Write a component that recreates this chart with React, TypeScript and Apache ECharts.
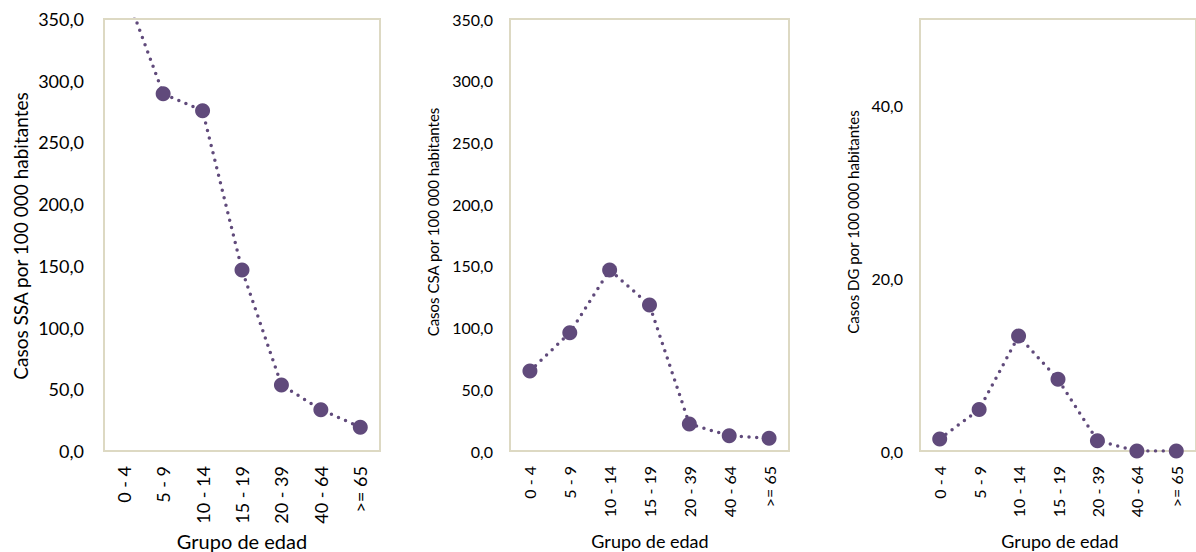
import React, { useEffect, useRef } from "react";
import * as echarts from "echarts";

const categories = ["0 - 4", "5 - 9", "10 - 14", "15 - 19", "20 - 39", "40 - 64", ">= 65"];
const ssaValues = [376, 289.5, 275.7, 146.7, 53.5, 33.5, 19.3];
const csaValues = [64.8, 95.8, 146.7, 118.3, 21.9, 12.4, 10.3];
const dgValues = [1.4, 4.8, 13.3, 8.3, 1.2, 0, 0];

const yTitles = [
  "Casos SSA por 100 000 habitantes",
  "Casos CSA por 100 000 habitantes",
  "Casos DG por 100 000 habitantes",
];
const xTitle = "Grupo de edad";

const PURPLE = "#604a7b";
const BORDER = "#ddd9c3";
const FONT = "Lato, 'Open Sans', sans-serif";

const fmt = (v: number) => v.toFixed(1).replace(".", ",");

export default function App() {
  const ref = useRef<HTMLDivElement>(null);
  useEffect(() => {
    if (!ref.current) return;
    const chart = echarts.init(ref.current, undefined, { renderer: "svg" });
    const grids = [
      { left: 104, top: 19, width: 276, height: 432 },
      { left: 510, top: 19, width: 279, height: 432 },
      { left: 920, top: 19, width: 282, height: 432 },
    ];
    const tickFont = [18, 16, 16];
    const yMax = [350, 350, 50];
    const yInt = [50, 50, 20];
    const data = [ssaValues, csaValues, dgValues];
    const option: any = {
      animation: false,
      backgroundColor: "#fff",
      grid: grids.map((g) => ({
        ...g,
        show: true,
        borderColor: BORDER,
        borderWidth: 2,
        backgroundColor: "transparent",
        containLabel: false,
      })),
      xAxis: grids.map((_, i) => ({
        type: "category",
        gridIndex: i,
        data: categories,
        boundaryGap: true,
        axisLine: { show: false },
        axisTick: { show: false },
        splitLine: { show: false },
        axisLabel: {
          rotate: 90,
          interval: 0,
          margin: 15,
          color: "#000",
          fontFamily: FONT,
          fontSize: tickFont[i],
        },
      })),
      yAxis: grids.map((_, i) => ({
        type: "value",
        gridIndex: i,
        min: 0,
        max: yMax[i],
        interval: yInt[i],
        axisLine: { show: false },
        axisTick: { show: false },
        splitLine: { show: false },
        axisLabel: {
          margin: i === 0 ? 20 : 17,
          color: "#000",
          fontFamily: FONT,
          fontSize: tickFont[i],
          formatter: (v: number) => (i === 2 && v === 50 ? "" : fmt(v)),
        },
      })),
      series: data.map((d, i) => ({
        type: "line",
        xAxisIndex: i,
        yAxisIndex: i,
        data: d,
        clip: true,
        symbol: "circle",
        symbolSize: 15,
        itemStyle: { color: PURPLE },
        lineStyle: { color: PURPLE, width: 3.5, type: [0, 7.7], cap: "round" },
      })),
      graphic: [
        {
          type: "text",
          x: 20,
          y: 236,
          rotation: Math.PI / 2,
          style: { text: yTitles[0], fill: "#000", font: `19px ${FONT}`, align: "center", verticalAlign: "middle" },
        },
        {
          type: "text",
          x: 433,
          y: 222,
          rotation: Math.PI / 2,
          style: { text: yTitles[1], fill: "#000", font: `15px ${FONT}`, align: "center", verticalAlign: "middle" },
        },
        {
          type: "text",
          x: 853,
          y: 222,
          rotation: Math.PI / 2,
          style: { text: yTitles[2], fill: "#000", font: `15px ${FONT}`, align: "center", verticalAlign: "middle" },
        },
        {
          type: "text",
          x: 242,
          y: 541,
          style: { text: xTitle, fill: "#000", font: `20px ${FONT}`, align: "center", verticalAlign: "middle" },
        },
        {
          type: "text",
          x: 650,
          y: 541,
          style: { text: xTitle, fill: "#000", font: `18px ${FONT}`, align: "center", verticalAlign: "middle" },
        },
        {
          type: "text",
          x: 1060,
          y: 541,
          style: { text: xTitle, fill: "#000", font: `18px ${FONT}`, align: "center", verticalAlign: "middle" },
        },
      ],
    };
    chart.setOption(option);
    return () => chart.dispose();
  }, []);
  return (
    <div
      ref={ref}
      style={{ position: "absolute", left: 0, top: 0, width: 1196, height: 552 }}
    />
  );
}
